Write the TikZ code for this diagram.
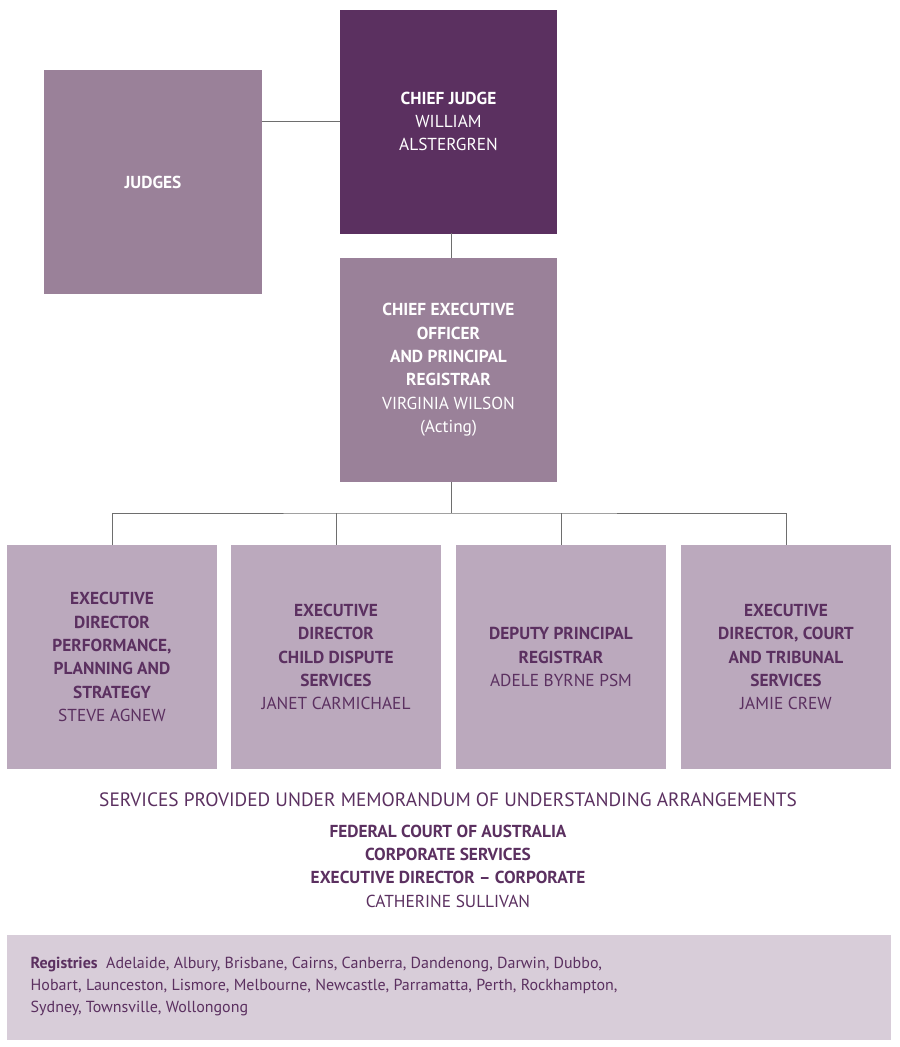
\documentclass[tikz,border=0pt]{standalone}
\usepackage{fontspec}
\setmainfont{PT Sans}
\definecolor{darkplum}{RGB}{91,48,96}
\definecolor{midplum}{RGB}{154,129,153}
\definecolor{lightplum}{RGB}{187,169,189}
\definecolor{paleplum}{RGB}{216,205,217}
\definecolor{linegrey}{RGB}{110,110,110}
\tikzset{
  box/.style={minimum width=165pt,minimum height=168pt,inner sep=0pt,align=center,font=\fontsize{13}{17.5}\selectfont},
  topbox/.style={box,minimum width=163pt,fill=darkplum,text=white},
  midbox/.style={box,minimum width=163pt,fill=midplum,text=white},
  lowbox/.style={box,minimum width=157pt,fill=lightplum,text=darkplum},
  link/.style={draw=linegrey,line width=0.6pt}
}
\begin{document}
\begin{tikzpicture}[x=0.75pt,y=0.75pt,yscale=-1,xscale=1]
\useasboundingbox (0,0) rectangle (900,1047);

% top row
\node [midbox] (judges) at (153,182) {\textbf{JUDGES}};
\node [topbox] (chief) at (448.5,121.5) {\textbf{CHIEF JUDGE}\\WILLIAM\\ALSTERGREN};
\node [midbox] (ceo) at (448.5,370) {\textbf{CHIEF EXECUTIVE}\\\textbf{OFFICER}\\\textbf{AND PRINCIPAL}\\\textbf{REGISTRAR}\\VIRGINIA WILSON\\(Acting)};

% executive row
\node [lowbox] (perf) at (112,657) {\textbf{EXECUTIVE}\\\textbf{DIRECTOR}\\\textbf{PERFORMANCE,}\\\textbf{PLANNING AND}\\\textbf{STRATEGY}\\STEVE AGNEW};
\node [lowbox] (child) at (336,657) {\textbf{EXECUTIVE}\\\textbf{DIRECTOR}\\\textbf{CHILD DISPUTE}\\\textbf{SERVICES}\\JANET CARMICHAEL};
\node [lowbox] (deputy) at (561,657) {\textbf{DEPUTY PRINCIPAL}\\\textbf{REGISTRAR}\\ADELE BYRNE PSM};
\node [lowbox] (court) at (786,657) {\textbf{EXECUTIVE}\\\textbf{DIRECTOR, COURT}\\\textbf{AND TRIBUNAL}\\\textbf{SERVICES}\\JAMIE CREW};

% connectors
\coordinate (bus) at (451,513);
\draw [link] (judges.east |- 0,121) -- (chief.west |- 0,121);
\draw [link] (451,233) -- (451,258);
\draw [link] (ceo.south -| bus) -- (bus);
\draw [link] (perf.north) |- (bus) -| (court.north);
\draw [link] (child.north) -- (child.north |- bus);
\draw [link] (deputy.north) -- (deputy.north |- bus);

% shared services
\node [text=darkplum,font=\fontsize{14.5}{17}\selectfont] (mou) at (448,800) {SERVICES PROVIDED UNDER MEMORANDUM OF UNDERSTANDING ARRANGEMENTS};
\node [text=darkplum,align=center,font=\fontsize{13}{17.5}\selectfont,anchor=north] (fca) at (448,820) {\textbf{FEDERAL COURT OF AUSTRALIA}\\\textbf{CORPORATE SERVICES}\\\textbf{EXECUTIVE DIRECTOR – CORPORATE}\\CATHERINE SULLIVAN};

% registries
\fill [paleplum] (7,935) rectangle (891,1040);
\node [text=darkplum,align=left,anchor=north west,font=\fontsize{12}{16.5}\selectfont] (reg) at (26,952) {\textbf{Registries}\ \ Adelaide, Albury, Brisbane, Cairns, Canberra, Dandenong, Darwin, Dubbo,\\Hobart, Launceston, Lismore, Melbourne, Newcastle, Parramatta, Perth, Rockhampton,\\Sydney, Townsville, Wollongong};
\end{tikzpicture}
\end{document}
